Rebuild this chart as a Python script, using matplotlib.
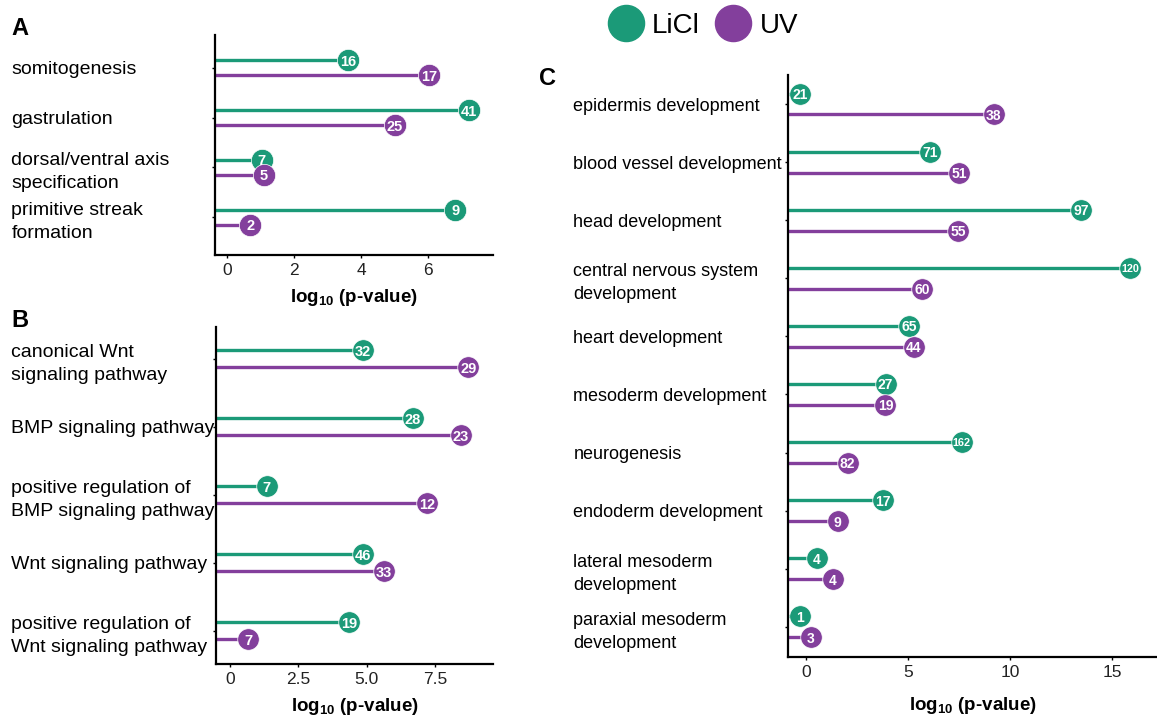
import matplotlib
matplotlib.use("Agg")
import matplotlib.pyplot as plt
from matplotlib.lines import Line2D
import numpy as np

plt.rcParams["font.family"] = ["Liberation Sans", "DejaVu Sans"]
plt.rcParams["mathtext.fontset"] = "custom"
plt.rcParams["mathtext.rm"] = "Liberation Sans"
plt.rcParams["mathtext.bf"] = "Liberation Sans:bold"

GREEN = "#1b9a78"
PURPLE = "#833f9c"

# panel A
A_terms = ["somitogenesis", "gastrulation", "dorsal/ventral axis\nspecification",
           "primitive streak\nformation"]
A_licl = [3.62, 7.23, 1.04, 6.81]
A_uv = [6.04, 5.01, 1.10, 0.69]
A_licl_n = [16, 41, 7, 9]
A_uv_n = [17, 25, 5, 2]

# panel B
B_terms = ["canonical Wnt\nsignaling pathway", "BMP signaling pathway",
           "positive regulation of\nBMP signaling pathway", "Wnt signaling pathway",
           "positive regulation of\nWnt signaling pathway"]
B_licl = [4.85, 6.68, 1.34, 4.85, 4.37]
B_uv = [8.72, 8.45, 7.22, 5.63, 0.67]
B_licl_n = [32, 28, 7, 46, 19]
B_uv_n = [29, 23, 12, 33, 7]

# panel C
C_terms = ["epidermis development", "blood vessel development", "head development",
           "central nervous system\ndevelopment", "heart development",
           "mesoderm development", "neurogenesis", "endoderm development",
           "lateral mesoderm\ndevelopment", "paraxial mesoderm\ndevelopment"]
C_licl = [-0.30, 6.10, 13.50, 15.90, 5.07, 3.90, 7.63, 3.75, 0.53, -0.30]
C_uv = [9.20, 7.50, 7.47, 5.68, 5.27, 3.89, 2.04, 1.55, 1.31, 0.24]
C_licl_n = [21, 71, 97, 120, 65, 27, 162, 17, 4, 1]
C_uv_n = [38, 51, 55, 60, 44, 19, 82, 9, 4, 3]


def lollipop(ax, terms, licl, uv, licl_n, uv_n, xlim, ylim, dodge, xticks, xticklabels,
             label_pad, label_size, ms, num_size, xlabel_pad=7):
    y = np.arange(len(terms))
    ax.set_xlim(*xlim)
    ax.set_ylim(*ylim)
    for vals, counts, off, col in ((licl, licl_n, -dodge, GREEN), (uv, uv_n, dodge, PURPLE)):
        yy = y + off
        ax.hlines(yy, xlim[0], vals, color=col, lw=2.4, zorder=2)
        ax.plot(vals, yy, "o", color=col, ms=ms, mec="white", mew=0.5, zorder=3,
                clip_on=False)
        for xv, yv, n in zip(vals, yy, counts):
            fs = num_size if n < 100 else num_size - 2.2
            ax.text(xv, yv, str(n), color="white", fontsize=fs, fontweight="bold",
                    ha="center", va="center_baseline", zorder=4)
    ax.set_yticks(y)
    ax.set_yticklabels(terms, ha="left", fontsize=label_size, linespacing=1.45)
    ax.tick_params(axis="y", length=2.5, width=1, pad=label_pad)
    ax.set_xticks(xticks)
    ax.set_xticklabels(xticklabels, fontsize=12.5, color="#222222")
    ax.tick_params(axis="x", length=2.5, width=1, pad=3)
    for s in ("top", "right"):
        ax.spines[s].set_visible(False)
    for s in ("left", "bottom"):
        ax.spines[s].set_linewidth(1.6)
    ax.set_xlabel(r"log$_{\mathbf{10}}$ (p-value)", fontsize=13.5, fontweight="bold",
                  labelpad=xlabel_pad)


fig = plt.figure(figsize=(11.57, 7.18), dpi=100)

axA = fig.add_axes([0.1858, 0.6448, 0.2403, 0.3064])
lollipop(axA, A_terms, A_licl, A_uv, A_licl_n, A_uv_n, (-0.36, 7.94), (3.76, -0.66), 0.15,
         [0, 2, 4, 6], ["0", "2", "4", "6"], 144, 14, 16, 10.5)

axB = fig.add_axes([0.1867, 0.0752, 0.2394, 0.4694])
lollipop(axB, B_terms, B_licl, B_uv, B_licl_n, B_uv_n, (-0.51, 9.62), (4.49, -0.47), 0.125,
         [0, 2.5, 5.0, 7.5], ["0", "2.5", "5.0", "7.5"], 145, 14, 15.5, 10.5)

axC = fig.add_axes([0.6811, 0.0850, 0.3189, 0.8106])
lollipop(axC, C_terms, C_licl, C_uv, C_licl_n, C_uv_n, (-0.88, 17.2), (9.52, -0.5), 0.18,
         [0, 5, 10, 15], ["0", "5", "10", "15"], 152, 13, 15.5, 10, xlabel_pad=11)

fig.text(0.010, 0.961, "A", fontsize=17, fontweight="bold", va="center")
fig.text(0.010, 0.554, "B", fontsize=17, fontweight="bold", va="center")
fig.text(0.466, 0.891, "C", fontsize=17, fontweight="bold", va="center")

handles = [Line2D([], [], ls="none", marker="o", ms=26, color=GREEN),
           Line2D([], [], ls="none", marker="o", ms=26, color=PURPLE)]
fig.legend(handles, ["LiCl", "UV"], loc="center", bbox_to_anchor=(0.608, 0.964), ncol=2,
           frameon=False, fontsize=20, handletextpad=0.35, columnspacing=0.6,
           handlelength=1.2)

fig.savefig("out.png", dpi=100)
